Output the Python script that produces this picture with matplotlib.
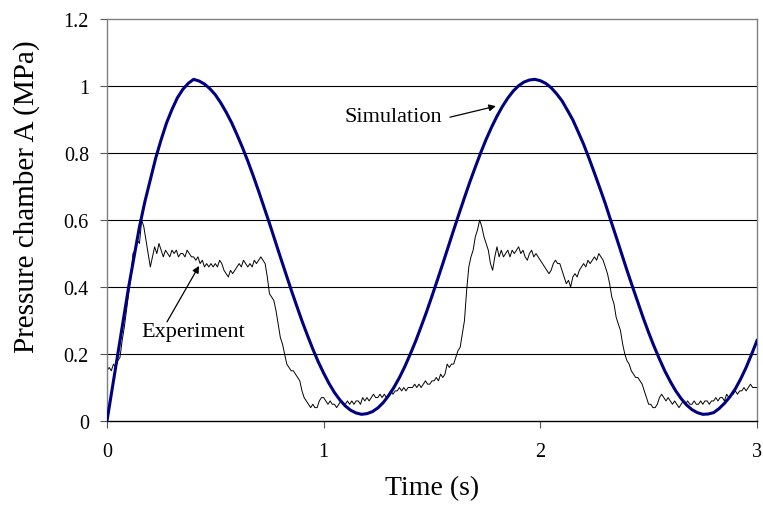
import matplotlib.pyplot as plt
import numpy as np

plt.rcParams['font.family'] = ['Liberation Serif', 'DejaVu Serif']

# Simulation (read every 0.025 s, 0 to 3 s)
sim_p = [0.000, 0.100, 0.200, 0.300, 0.400, 0.490, 0.580, 0.655, 0.720, 0.785,
         0.840, 0.890, 0.930, 0.965, 0.990, 1.008, 1.020, 1.015, 1.006, 0.992,
         0.974, 0.950, 0.922, 0.891, 0.855, 0.817, 0.776, 0.732, 0.686, 0.638,
         0.590, 0.540, 0.490, 0.441, 0.392, 0.345, 0.299, 0.256, 0.215, 0.177,
         0.143, 0.112, 0.085, 0.063, 0.045, 0.032, 0.024, 0.020, 0.022, 0.028,
         0.039, 0.055, 0.076, 0.101, 0.130, 0.163, 0.200, 0.239, 0.282, 0.326,
         0.373, 0.421, 0.470, 0.520, 0.570, 0.619, 0.667, 0.714, 0.758, 0.801,
         0.841, 0.877, 0.910, 0.939, 0.964, 0.985, 1.001, 1.012, 1.018, 1.020,
         1.016, 1.008, 0.995, 0.977, 0.956, 0.928, 0.899, 0.863, 0.826, 0.784,
         0.740, 0.695, 0.649, 0.599, 0.550, 0.500, 0.450, 0.402, 0.355, 0.308,
         0.264, 0.223, 0.185, 0.149, 0.118, 0.090, 0.067, 0.048, 0.034, 0.025,
         0.020, 0.021, 0.025, 0.037, 0.053, 0.072, 0.096, 0.126, 0.160, 0.199,
         0.240]
sim_t = np.linspace(0, 3, len(sim_p))

# Experiment (read every 0.01 s, 0 to 3 s)
exp_p = [0.15, 0.16, 0.15, 0.17, 0.16, 0.18, 0.19, 0.24, 0.28, 0.33,
         0.38, 0.43, 0.50, 0.51, 0.54, 0.53, 0.60, 0.58, 0.54, 0.50,
         0.46, 0.49, 0.52, 0.50, 0.53, 0.51, 0.49, 0.51, 0.50, 0.49,
         0.51, 0.50, 0.51, 0.49, 0.50, 0.50, 0.49, 0.51, 0.50, 0.49,
         0.49, 0.48, 0.49, 0.47, 0.48, 0.46, 0.47, 0.46, 0.47, 0.46,
         0.47, 0.46, 0.48, 0.47, 0.45, 0.44, 0.43, 0.45, 0.44, 0.45,
         0.46, 0.47, 0.46, 0.48, 0.47, 0.46, 0.47, 0.46, 0.48, 0.47,
         0.48, 0.49, 0.48, 0.47, 0.43, 0.38, 0.37, 0.36, 0.33, 0.29,
         0.25, 0.23, 0.20, 0.17, 0.16, 0.15, 0.15, 0.14, 0.13, 0.12,
         0.09, 0.07, 0.06, 0.05, 0.04, 0.05, 0.04, 0.04, 0.06, 0.07,
         0.07, 0.06, 0.05, 0.06, 0.05, 0.05, 0.04, 0.05, 0.06, 0.05,
         0.05, 0.06, 0.05, 0.06, 0.05, 0.06, 0.06, 0.05, 0.07, 0.06,
         0.07, 0.06, 0.07, 0.08, 0.07, 0.07, 0.08, 0.07, 0.08, 0.07,
         0.08, 0.09, 0.08, 0.09, 0.09, 0.10, 0.09, 0.10, 0.09, 0.10,
         0.10, 0.10, 0.11, 0.10, 0.11, 0.10, 0.11, 0.12, 0.11, 0.11,
         0.12, 0.12, 0.13, 0.12, 0.14, 0.13, 0.14, 0.17, 0.16, 0.17,
         0.17, 0.19, 0.21, 0.22, 0.26, 0.30, 0.39, 0.46, 0.49, 0.51,
         0.55, 0.57, 0.60, 0.58, 0.55, 0.53, 0.51, 0.47, 0.45, 0.49,
         0.52, 0.49, 0.51, 0.49, 0.50, 0.51, 0.49, 0.51, 0.50, 0.51,
         0.52, 0.50, 0.51, 0.49, 0.48, 0.50, 0.51, 0.49, 0.50, 0.49,
         0.48, 0.47, 0.46, 0.45, 0.44, 0.45, 0.47, 0.48, 0.47, 0.47,
         0.45, 0.43, 0.41, 0.42, 0.40, 0.43, 0.44, 0.43, 0.45, 0.46,
         0.47, 0.46, 0.48, 0.47, 0.48, 0.49, 0.48, 0.50, 0.49, 0.48,
         0.46, 0.44, 0.41, 0.37, 0.35, 0.31, 0.29, 0.27, 0.23, 0.20,
         0.18, 0.17, 0.15, 0.14, 0.13, 0.13, 0.12, 0.11, 0.09, 0.07,
         0.05, 0.05, 0.04, 0.04, 0.05, 0.07, 0.08, 0.07, 0.06, 0.07,
         0.06, 0.05, 0.06, 0.05, 0.04, 0.05, 0.06, 0.05, 0.06, 0.05,
         0.05, 0.06, 0.05, 0.05, 0.06, 0.05, 0.06, 0.06, 0.05, 0.06,
         0.06, 0.07, 0.06, 0.07, 0.07, 0.06, 0.08, 0.07, 0.08, 0.08,
         0.09, 0.08, 0.09, 0.09, 0.10, 0.09, 0.10, 0.11, 0.10, 0.10,
         0.10]
exp_t = np.linspace(0, 3, len(exp_p))

x_ticks = [0, 1, 2, 3]
y_ticks = [0, 0.2, 0.4, 0.6, 0.8, 1.0, 1.2]
y_labels = ['0', '0.2', '0.4', '0.6', '0.8', '1', '1.2']

fig = plt.figure(figsize=(7.63, 5.10), dpi=100)
ax = fig.add_axes([0.1402, 0.1725, 0.8519, 0.7882])

# gridlines
for y in y_ticks[1:-1]:
    ax.axhline(y, color='black', linewidth=0.8, zorder=1)

ax.plot(exp_t, exp_p, color='black', linewidth=0.7, zorder=2)
ax.plot(sim_t, sim_p, color='#000080', linewidth=2.2, zorder=3,
        solid_joinstyle='round')

ax.set_xlim(0, 3)
ax.set_ylim(0, 1.2)
ax.set_xticks(x_ticks)
ax.set_yticks(y_ticks)
ax.set_yticklabels(y_labels)
ax.tick_params(axis='both', direction='out', length=5, width=0.8,
               labelsize=14.5, color='#555555')
ax.tick_params(axis='y', pad=8)
ax.tick_params(axis='x', pad=10)

for side in ['left', 'top', 'right']:
    ax.spines[side].set_color('#808080')
    ax.spines[side].set_linewidth(1.0)
ax.spines['bottom'].set_color('black')
ax.spines['bottom'].set_linewidth(1.0)

ax.set_xlabel('Time (s)', fontsize=20)
ax.set_ylabel('Pressure chamber A (MPa)', fontsize=21)
ax.xaxis.set_label_coords(0.5, -0.135)
ax.yaxis.set_label_coords(-0.103, 0.56)

# annotations: text and arrow drawn separately
arrow = dict(arrowstyle='-|>', color='black', linewidth=0.9,
             mutation_scale=10, shrinkA=0, shrinkB=0)
ax.text(1.32, 0.91, 'Simulation', fontsize=16, ha='center', va='center')
ax.annotate('', xy=(1.795, 0.94), xytext=(1.583, 0.907), arrowprops=arrow)
ax.text(0.397, 0.266, 'Experiment', fontsize=16, ha='center', va='center')
ax.annotate('', xy=(0.425, 0.463), xytext=(0.277, 0.296), arrowprops=arrow)

fig.savefig('out.png', dpi=100)
